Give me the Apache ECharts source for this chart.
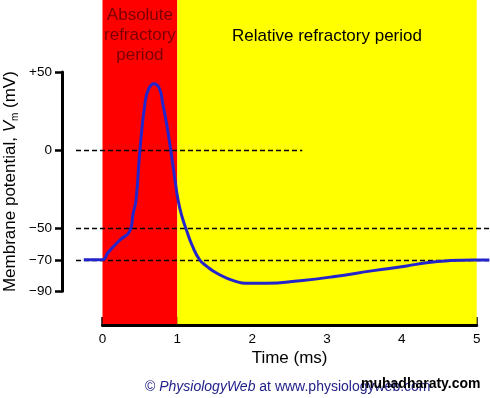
<!DOCTYPE html>
<html>
<head>
<meta charset="utf-8">
<script src="https://cdn.jsdelivr.net/npm/echarts@6/dist/echarts.min.js"></script>
<style>
html,body{margin:0;padding:0;background:#fff;}
#chart{width:490px;height:398px;}
</style>
</head>
<body>
<div id="chart"></div>
<script>
// ---- data ----
const times = [-0.25, 0, 0.07, 0.144, 0.234, 0.367, 0.41, 0.448, 0.50, 0.568, 0.62, 0.688, 0.76, 0.805, 0.86, 0.912, 0.96, 1.01, 1.06, 1.125, 1.20, 1.30, 1.39, 1.53, 1.75, 1.97, 2.19, 2.64, 3.08, 3.62, 4.065, 4.33, 4.64, 4.95, 5.17];
const potentials = [-70, -70, -65.6, -61.6, -57.3, -51.4, -40.3, -31.8, 0, 30, 39.5, 42.5, 39.5, 30, 16, 0, -16, -31.8, -42, -51.4, -61, -70.1, -74, -78.6, -83.3, -85, -85, -83.3, -80.8, -76.9, -73.9, -71.8, -70.5, -70.1, -70.1];
const yTickValues = [-90, -70, -50, 0, 50];
const xTickValues = [0, 1, 2, 3, 4, 5];
const refLevels = [0, -50, -70];
const refEnds = [2.67, 5.17, 5.17];
const periods = [
  {name: 'Absolute\nrefractory\nperiod', start: 0, end: 1},
  {name: 'Relative refractory period', start: 1, end: 5}
];

const X_MIN = -0.354, X_MAX = 5.178;
const Y_MIN = -111.0, Y_MAX = 96.04;

const chart = echarts.init(document.getElementById('chart'));
const FONT = 'Liberation Sans, Arial, sans-serif';

const fmt = v => v > 0 ? '+' + v : (v < 0 ? '\u2212' + (-v) : '0');

const option = {
  animation: false,
  backgroundColor: '#ffffff',
  grid: [
    {left: 76, right: 0, top: 0, bottom: 74},
    {left: 62, width: 10, top: 72.05, height: 219.1},
    {left: 102.5, right: 13.3, bottom: 73, height: 10}
  ],
  xAxis: [
    {gridIndex: 0, type: 'value', min: X_MIN, max: X_MAX, show: false},
    {gridIndex: 1, type: 'value', show: false},
    {gridIndex: 2, type: 'value', min: 0, max: 5, interval: 1, position: 'bottom',
      axisLine: {show: true, onZero: false, lineStyle: {color: '#000', width: 3}},
      axisTick: {show: true, inside: true, length: 8, lineStyle: {color: '#000', width: 2.5}},
      axisLabel: {show: true, margin: 7, color: '#000', fontSize: 13.5, fontFamily: FONT, customValues: xTickValues},
      splitLine: {show: false},
      name: 'Time (ms)', nameLocation: 'middle', nameGap: 25,
      nameTextStyle: {color: '#000', fontSize: 17, fontFamily: FONT}
    }
  ],
  yAxis: [
    {gridIndex: 0, type: 'value', min: Y_MIN, max: Y_MAX, show: false},
    {gridIndex: 1, type: 'value', min: -90, max: 50, position: 'left',
      axisLine: {show: true, onZero: false, lineStyle: {color: '#000', width: 3}},
      axisTick: {show: true, inside: false, length: 7, lineStyle: {color: '#000', width: 2.5}, customValues: yTickValues},
      axisLabel: {show: true, margin: 10, color: '#000', fontSize: 13.5, fontFamily: FONT, customValues: yTickValues, formatter: fmt},
      splitLine: {show: false},
      name: '{a|Membrane potential, }{v|V}{s|m}{a| (mV)}',
      nameLocation: 'middle', nameRotate: 90, nameGap: 42,
      nameTextStyle: {
        color: '#000', fontSize: 17, fontFamily: FONT,
        rich: {
          a: {color: '#000', fontSize: 17, fontFamily: FONT, lineHeight: 20},
          v: {color: '#000', fontSize: 17, fontFamily: FONT, fontStyle: 'italic', lineHeight: 20},
          s: {color: '#000', fontSize: 10, fontFamily: FONT, lineHeight: 12, verticalAlign: 'bottom'}
        }
      }
    },
    {gridIndex: 2, type: 'value', show: false}
  ],
  series: [{
    type: 'line',
    xAxisIndex: 0, yAxisIndex: 0,
    data: times.map((t, i) => [t, potentials[i]]),
    smooth: 0.5,
    showSymbol: false,
    symbol: 'none',
    lineStyle: {color: '#2424cc', width: 3},
    z: 5,
    markArea: {
      silent: true,
      data: periods.map((p, i) => [
        {xAxis: p.start,
          itemStyle: {color: i === 0 ? '#ff0000' : '#ffff00'},
          label: {
            show: true, position: 'insideTop', distance: i === 0 ? 5 : 26,
            formatter: p.name, color: i === 0 ? '#7a0000' : '#000',
            fontSize: 17, fontFamily: FONT, lineHeight: 20, align: 'center'
          }},
        {xAxis: p.end}
      ])
    },
    markLine: {
      silent: true,
      symbol: 'none',
      label: {show: false},
      lineStyle: {color: '#000', width: 1.4, type: [5, 3]},
      data: refLevels.map((lv, i) => [
        {coord: [X_MIN, lv]},
        {coord: [refEnds[i], lv]}
      ])
    }
  }],
  graphic: [
    {type: 'text', left: 145, top: 380, z: 10,
      style: {
        text: '{n|\u00a9 }{i|PhysiologyWeb}{n| at www.physiologyweb.com}',
        rich: {
          n: {fill: '#22228a', fontSize: 14, fontFamily: FONT},
          i: {fill: '#22228a', fontSize: 14, fontFamily: FONT, fontStyle: 'italic'}
        }
      }},
    {type: 'text', left: 361, top: 377, z: 11,
      style: {text: 'muhadharaty.com', fill: '#000', fontSize: 14, fontWeight: 'bold', fontFamily: FONT}}
  ]
};
chart.setOption(option);
</script>
</body>
</html>
